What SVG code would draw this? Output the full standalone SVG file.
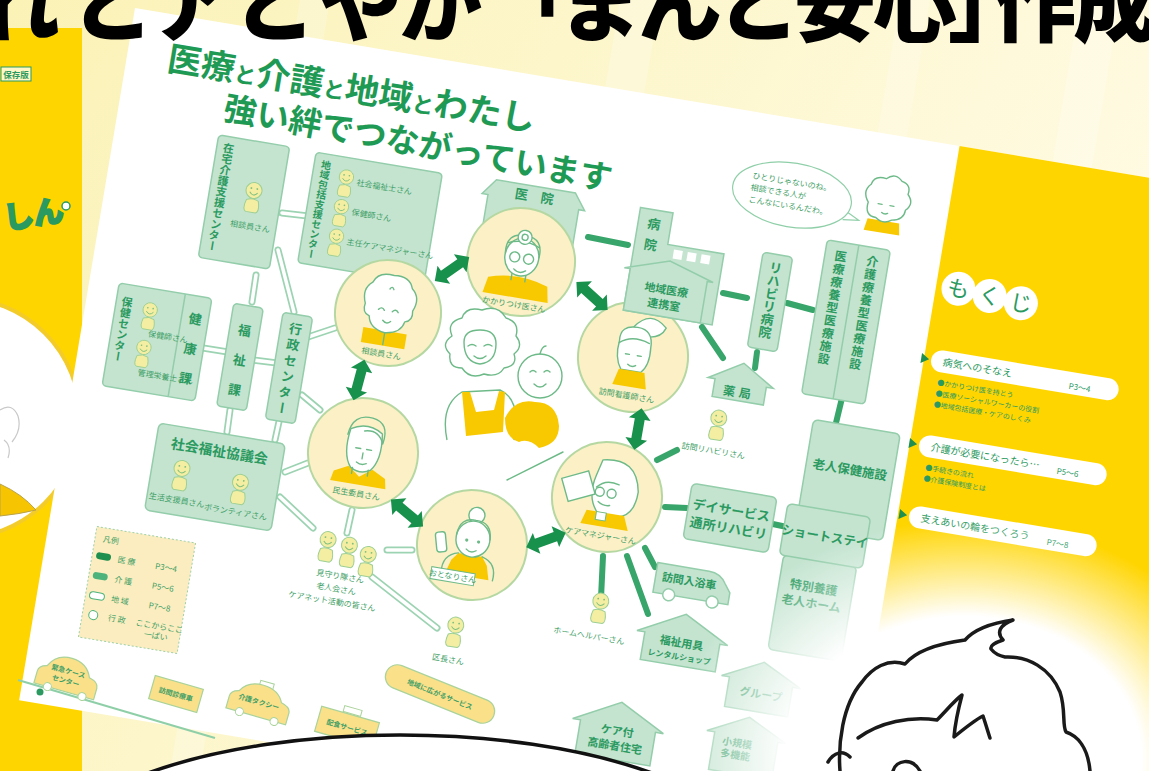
<svg xmlns="http://www.w3.org/2000/svg" width="1149" height="771" viewBox="0 0 1149 771">
<defs>
<style>
.jp{font-family:"Noto Sans CJK JP","Noto Sans CJK SC",sans-serif;}
.box{fill:#c4e4d0;stroke:#93cdaa;stroke-width:1.5;}
.bt{font-family:"Noto Sans CJK JP","Noto Sans CJK SC",sans-serif;font-weight:700;fill:#2b9a60;}
.lbl{font-family:"Noto Sans CJK JP","Noto Sans CJK SC",sans-serif;font-size:8px;fill:#3f9f67;}
.ring{fill:#fcf0c6;stroke:#b5d8a2;stroke-width:2;}
.ink{fill:none;stroke:#6dba88;stroke-width:1.4;stroke-linecap:round;stroke-linejoin:round;}
.skin{fill:#fff;stroke:#6dba88;stroke-width:1.4;stroke-linejoin:round;}
.shirt{fill:#f8c800;}
.arrow{fill:#17914b;}
.link{stroke:#38a56a;stroke-width:6;stroke-linecap:round;fill:none;}
.wire-o{stroke:#9cd3b2;stroke-width:7;stroke-linecap:round;fill:none;}
.wire-i{stroke:#fff;stroke-width:3.5;stroke-linecap:round;fill:none;}
.car{fill:#fbe08a;stroke:#a9d39a;stroke-width:1.2;}
.ct{font-family:"Noto Sans CJK JP","Noto Sans CJK SC",sans-serif;font-size:7px;fill:#3f9f67;font-weight:700;}
.toc{font-family:"Noto Sans CJK JP","Noto Sans CJK SC",sans-serif;fill:#2b9a60;}
</style>
<linearGradient id="bg" x1="0" y1="0" x2="1" y2="0.4">
<stop offset="0" stop-color="#fbf2b6"/><stop offset="1" stop-color="#fffbe4"/>
</linearGradient>
<radialGradient id="glow" cx="0.5" cy="0.5" r="0.5">
<stop offset="0.6" stop-color="#fff"/><stop offset="1" stop-color="#fff" stop-opacity="0"/>
</radialGradient>
<g id="person">
<path d="M-6,5 Q-9,15 -5,17 L5,17 Q9,15 6,5 Q0,2 -6,5Z" fill="#f3eea2" stroke="#9ccf94" stroke-width="1"/>
<circle cx="0" cy="-5" r="8" fill="#f3eea2" stroke="#9ccf94" stroke-width="1"/>
<path d="M-4,-3 q4,5 8,0" fill="none" stroke="#7fbf7f" stroke-width="1"/>
<circle cx="-3" cy="-7" r="0.9" fill="#7fbf7f"/><circle cx="3" cy="-7" r="0.9" fill="#7fbf7f"/>
</g>
<path id="dbl" d="M-21,0 L-10,-11 L-10,-5 L10,-5 L10,-11 L21,0 L10,11 L10,5 L-10,5 L-10,11Z"/>
<g id="wirepaths">
<path d="M282,213 L308,216"/>
<path d="M256,275 L252,302"/>
<path d="M278,250 L294,312"/>
<path d="M203,348 L228,352"/>
<path d="M253,360 L277,363"/>
<path d="M308,337 L335,328"/>
<path d="M302,395 L320,410"/>
<path d="M230,410 L227,432"/>
<path d="M280,417 L275,440"/>
<path d="M285,472 L308,463"/>
<path d="M280,497 L313,528"/>
<path d="M352,510 L347,533"/>
<path d="M387,550 L412,550"/>
<path d="M372,577 L437,628"/>
</g>
</defs>

<!-- backdrop -->
<rect width="1149" height="771" fill="url(#bg)"/>
<g fill="#fff" opacity="0.22">
<polygon points="300,0 330,0 200,771 170,771"/>
<polygon points="620,0 660,0 530,771 490,771"/>
<polygon points="900,0 930,0 800,771 770,771"/>
<polygon points="1080,0 1120,0 990,771 950,771"/>
</g>

<!-- cover booklet on the left -->
<g id="cover">
<rect x="0" y="28" width="82" height="743" fill="#ffd500"/>
<rect x="1" y="67" width="30" height="14" fill="#fff7c8" stroke="#2b9a60" stroke-width="1"/>
<text class="bt" x="16" y="78" font-size="8.5" text-anchor="middle" font-weight="400">保存版</text>
<text class="bt" x="3" y="226" font-size="30" fill="#fff" stroke="#2b9a60" stroke-width="2.5" paint-order="stroke" transform="rotate(-8,25,212)">しん</text>
<circle cx="66" cy="206" r="4" fill="#fff" stroke="#2b9a60" stroke-width="1.5"/>
<circle cx="-40" cy="418" r="120" fill="#fff" stroke="#f3cc2a" stroke-width="4"/>
<path d="M0,410 q12,-8 18,6 q4,14 -6,26 M4,440 q8,6 4,18" fill="none" stroke="#c9c9c9" stroke-width="1.2"/>
<path d="M0,484 Q22,494 36,510 Q20,514 0,516Z" fill="#f6c400" stroke="#b9a34a" stroke-width="1"/>
</g>

<!-- brochure sheet -->
<g id="page" transform="translate(135,8) rotate(9.5)">
<rect x="0" y="0" width="1300" height="702" fill="#fff"/>
<rect x="836" y="0" width="464" height="702" fill="#ffd500"/>
</g>

<!-- heading on the sheet -->
<g id="heading" class="bt">
<text transform="translate(166,70) rotate(9.5)" font-size="34" fill="#1f9a55">医療<tspan font-size="22">と</tspan>介護<tspan font-size="22">と</tspan>地域<tspan font-size="22">と</tspan>わたし</text>
<text transform="translate(222,119) rotate(10.5)" font-size="33" fill="#1f9a55">強い絆でつながっています</text>
</g>

<!-- connectors -->
<g id="connectors">
<use href="#wirepaths" class="wire-o"/>
<use href="#wirepaths" class="wire-i"/>
<g class="link">
<path d="M588,237 L628,245"/>
<path d="M723,293 L747,298"/>
<path d="M787,303 L813,310"/>
<path d="M702,327 L723,358"/>
<path d="M757,352 L755,368"/>
<path d="M842,398 L835,427"/>
<path d="M657,460 L677,450"/>
<path d="M665,507 L687,508"/>
<path d="M768,523 L787,527"/>
<path d="M645,548 L655,567"/>
<path d="M603,556 L601,598"/>
<path d="M627,556 L648,614"/>
</g>
<path d="M18,680 L215,738" stroke="#8fcfa8" stroke-width="2" fill="none"/>
</g>

<!-- left-hand agencies -->
<g id="n-zaitaku" transform="translate(244,202) rotate(9.5)">
<rect class="box" x="-36" y="-62" width="72" height="124" rx="4"/>
<text class="bt" x="-24" y="-56" font-size="11" writing-mode="tb">在宅介護支援センター</text>
<use href="#person" transform="translate(8,-8)"/>
<text class="lbl" x="10" y="26" text-anchor="middle">相談員さん</text>
</g>

<g id="n-houkatsu" transform="translate(370,218) rotate(9.5)">
<rect class="box" x="-64" y="-56" width="128" height="112" rx="4"/>
<text class="bt" x="-52" y="-50" font-size="10" writing-mode="tb">地域包括支援センター</text>
<use href="#person" transform="translate(-30,-32) scale(0.9)"/>
<use href="#person" transform="translate(-30,-2) scale(0.9)"/>
<use href="#person" transform="translate(-30,28) scale(0.9)"/>
<text class="lbl" x="-19" y="-30">社会福祉士さん</text>
<text class="lbl" x="-19" y="0">保健師さん</text>
<text class="lbl" x="-19" y="30" font-size="7.5">主任ケアマネジャーさん</text>
</g>

<g id="n-kenkou" transform="translate(157,342) rotate(9.5)">
<rect class="box" x="-47" y="-52" width="94" height="104" rx="4"/>
<path d="M20,-52 V52" stroke="#93cdaa" stroke-width="1.5"/>
<text class="bt" x="-36" y="-40" font-size="11" writing-mode="tb">保健センター</text>
<use href="#person" transform="translate(-12,-26) scale(0.9)"/>
<use href="#person" transform="translate(-12,12) scale(0.9)"/>
<text class="lbl" x="-10" y="-4" font-size="7">保健師さん</text>
<text class="lbl" x="-14" y="36" font-size="7">管理栄養士さん</text>
<text class="bt" x="34" y="-24" font-size="13" text-anchor="middle">健</text>
<text class="bt" x="34" y="6" font-size="13" text-anchor="middle">康</text>
<text class="bt" x="34" y="36" font-size="13" text-anchor="middle">課</text>
</g>

<g id="n-fukushi" transform="translate(240,357) rotate(9.5)">
<rect class="box" x="-15" y="-52" width="30" height="104" rx="4"/>
<text class="bt" x="0" y="-22" font-size="13" text-anchor="middle">福</text>
<text class="bt" x="0" y="8" font-size="13" text-anchor="middle">祉</text>
<text class="bt" x="0" y="38" font-size="13" text-anchor="middle">課</text>
</g>

<g id="n-gyousei" transform="translate(289,368) rotate(9.5)">
<rect class="box" x="-15" y="-54" width="30" height="108" rx="4"/>
<text class="bt" x="0" y="-46" font-size="13" writing-mode="tb" letter-spacing="3">行政センター</text>
</g>

<g id="n-shakyo" transform="translate(215,477) rotate(9.5)">
<rect class="box" x="-64" y="-44" width="128" height="88" rx="5"/>
<text class="bt" x="0" y="-21" font-size="14" text-anchor="middle">社会福祉協議会</text>
<use href="#person" transform="translate(-34,2)"/>
<use href="#person" transform="translate(26,6)"/>
<text class="lbl" x="-34" y="32" text-anchor="middle">生活支援員さん</text>
<text class="lbl" x="26" y="34" text-anchor="middle">ボランティアさん</text>
</g>

<g id="n-clinic" transform="translate(532,210) rotate(9.5)">
<polygon class="box" points="-52,-8 -40,-24 40,-24 52,-8 46,-8 46,28 -46,28 -46,-8"/>
<text class="bt" x="-13" y="-9" font-size="13" text-anchor="middle">医</text>
<text class="bt" x="13" y="-9" font-size="13" text-anchor="middle">院</text>
</g>

<!-- people circles -->
<g id="c-doctor" transform="translate(521,262) rotate(9.5)">
<circle class="ring" r="54"/>
<path class="shirt" d="M-30,20 Q0,10 30,20 L33,36 L-33,36Z"/>
<path class="ink" d="M-7,10 v9 M7,10 v9"/>
<ellipse class="skin" cx="0" cy="-5" rx="17" ry="19"/>
<path class="ink" d="M-17,-7 Q-19,-27 0,-27 Q19,-27 17,-7"/>
<path class="ink" d="M-16,-17 Q0,-24 16,-17"/>
<circle class="skin" cx="0" cy="-25" r="7"/>
<circle class="ink" cx="0" cy="-25" r="3"/>
<circle class="ink" cx="-7" cy="-4" r="5"/><circle class="ink" cx="7" cy="-4" r="5"/>
<path class="ink" d="M-6,8 Q0,13 6,8"/>
<text class="lbl" y="46" text-anchor="middle">かかりつけ医さん</text>
</g>

<g id="c-soudan" transform="translate(388,313) rotate(9.5)">
<circle class="ring" r="53"/>
<rect class="shirt" x="-22" y="18" width="44" height="15"/>
<path class="ink" d="M0,18 v14"/>
<path class="skin" d="M-24,-6 q-6,-14 4,-22 q4,-12 20,-10 q16,-2 20,10 q10,8 4,22 q2,10 -6,12 q-2,12 -18,14 q-16,-2 -18,-14 q-8,-2 -6,-12z"/>
<path class="ink" d="M-10,-2 q3,-4 6,0 M4,-2 q3,-4 6,0 M-4,8 q4,4 8,0 M-2,-24 q2,-4 4,0"/>
<text class="lbl" y="44" text-anchor="middle">相談員さん</text>
</g>

<g id="c-minsei" transform="translate(363,453) rotate(9.5)">
<circle class="ring" r="55"/>
<path class="shirt" d="M-26,22 L-12,15 L0,24 L12,15 L26,22 L28,32 L-28,32Z"/>
<path class="skin" d="M-16,-22 Q-20,4 -10,16 Q0,22 10,16 Q20,4 16,-22 Q0,-32 -16,-22Z"/>
<path class="ink" d="M-18,-16 Q-16,-38 4,-36 Q22,-34 18,-12 Q12,-26 -2,-22 M-8,-4 h5 M3,-4 h5 M0,0 v6 M-5,10 q5,3 10,0"/>
<path class="ink" d="M-8,16 v6 M8,16 v6"/>
<text class="lbl" y="44" text-anchor="middle">民生委員さん</text>
</g>

<g id="c-otonari" transform="translate(472,545) rotate(9.5)">
<circle class="ring" r="55"/>
<path class="shirt" d="M-18,18 L-12,10 L12,10 L18,18 L22,32 L-22,32Z"/>
<path class="ink" d="M-26,32 Q-28,14 -12,10 M26,32 Q28,14 12,10"/>
<circle class="skin" cx="0" cy="-30" r="8"/>
<ellipse class="skin" cx="0" cy="-6" rx="17" ry="18"/>
<path class="ink" d="M-17,-8 Q-16,-26 0,-25 Q16,-26 17,-8"/>
<circle cx="-6" cy="-4" r="1.6" fill="#6dba88"/><circle cx="6" cy="-4" r="1.6" fill="#6dba88"/>
<path class="ink" d="M-5,5 Q0,9 5,5"/>
<rect class="skin" x="-36" y="-8" width="10" height="20" rx="3" transform="rotate(-15,-31,2)"/>
<rect x="-36" y="28" width="44" height="12" fill="#fff" stroke="#6dba88" stroke-width="1"/>
<text class="lbl" x="-14" y="37" text-anchor="middle" font-size="7.5">おとなりさん</text>
</g>

<g id="c-caremane" transform="translate(607,497) rotate(9.5)">
<circle class="ring" r="55"/>
<path class="skin" d="M-10,-36 Q24,-44 30,-10 Q30,14 14,18 L-6,18 Q-20,4 -14,-20Z"/>
<path class="ink" d="M-12,-8 Q-4,-18 10,-14 M-8,6 Q-2,10 4,8"/>
<circle class="ink" cx="-8" cy="-4" r="4.5"/><circle class="ink" cx="4" cy="-4" r="4.5"/>
<rect class="skin" x="-44" y="-18" width="28" height="24" transform="rotate(-25,-30,-6)"/>
<path class="shirt" d="M-18,16 L20,16 L26,30 L-22,30Z"/>
<rect x="-8" y="16" width="10" height="8" fill="#fff" stroke="#6dba88" stroke-width="1"/>
<text class="lbl" y="42" text-anchor="middle">ケアマネジャーさん</text>
</g>

<g id="c-kango" transform="translate(633,357) rotate(9.5)">
<circle class="ring" r="55"/>
<path class="skin" d="M-4,-30 Q10,-50 28,-34 Q24,-22 8,-22Z"/>
<path class="skin" d="M-16,-14 Q-18,-30 0,-30 Q16,-30 16,-12 Q18,6 10,14 L-10,14 Q-18,4 -16,-14Z"/>
<path class="ink" d="M-16,-12 Q-4,-22 14,-16 M-8,-2 h4 M4,-2 h4 M-4,8 q4,3 8,0"/>
<path class="shirt" d="M-12,14 L14,14 L18,30 L-16,30Z"/>
<text class="lbl" y="42" text-anchor="middle">訪問看護師さん</text>
</g>

<!-- arrows between people -->
<g id="arrows" class="arrow">
<use href="#dbl" transform="translate(452,269) rotate(-35)"/>
<use href="#dbl" transform="translate(592,296) rotate(42)"/>
<use href="#dbl" transform="translate(638,429) rotate(100)"/>
<use href="#dbl" transform="translate(546,540) rotate(-20)"/>
<use href="#dbl" transform="translate(407,513) rotate(40)"/>
<use href="#dbl" transform="translate(359,380) rotate(105)"/>
</g>

<!-- family in the middle -->
<g id="n-family">
<path class="skin" d="M447,440 Q440,405 462,392 L500,390 Q522,400 514,440"/>
<path class="skin" d="M452,336 q-6,-14 10,-18 q4,-12 20,-8 q16,-6 24,8 q14,4 10,18 q8,10 -2,18 q4,12 -10,14 q-6,10 -20,6 q-14,6 -22,-6 q-14,0 -12,-14 q-10,-10 2,-18z"/>
<path class="skin" d="M464,342 q0,-12 16,-12 q16,0 16,14 q0,18 -16,20 q-16,-2 -16,-22z"/>
<path class="ink" d="M468,346 q4,-3 8,0 M484,346 q4,-3 8,0 M474,356 q6,5 12,0"/>
<path class="shirt" d="M462,392 L470,392 L476,412 L494,410 L499,391 L505,392 L503,432 L466,436Z"/>
<circle class="skin" cx="540" cy="376" r="22"/>
<path class="ink" d="M530,372 q3,-3 6,0 M544,372 q3,-3 6,0 M534,384 q6,6 12,0 M540,354 q2,-8 6,-8"/>
<path class="shirt" d="M505,418 q10,-20 30,-16 q22,0 24,24 q0,18 -20,22 q-10,-10 -20,-6 q-14,-4 -14,-24z"/>
<path class="ink" d="M507,480 L563,452"/>
</g>

<!-- hospital side -->
<g id="n-hospital" transform="translate(675,268) rotate(9.5)">
<path class="box" d="M-44,-54 h33 v32 h57 v72 h-90 z"/>
<rect x="-4" y="-18" width="9" height="9" fill="#fff"/>
<rect x="10" y="-18" width="9" height="9" fill="#fff"/>
<rect x="24" y="-18" width="9" height="9" fill="#fff"/>
<text class="bt" x="-28" y="-35" font-size="13" text-anchor="middle">病</text>
<text class="bt" x="-28" y="-14" font-size="13" text-anchor="middle">院</text>
<polygon class="box" points="-50,8 -6,-6 40,8 34,8 34,50 -44,50 -44,8"/>
<text class="bt" x="-5" y="27" font-size="11" text-anchor="middle">地域医療</text>
<text class="bt" x="-5" y="42" font-size="11" text-anchor="middle">連携室</text>
</g>

<g id="n-rehab" transform="translate(770,302) rotate(9.5)">
<rect class="box" x="-15" y="-48" width="30" height="96" rx="4"/>
<text class="bt" x="0" y="-41" font-size="13" writing-mode="tb">リハビリ病院</text>
</g>

<g id="n-ryouyou" transform="translate(846,322) rotate(9.5)">
<rect class="box" x="-32" y="-78" width="64" height="156" rx="4"/>
<path d="M0,-78 V78" stroke="#93cdaa" stroke-width="1.5"/>
<text class="bt" x="-16" y="-70" font-size="12" writing-mode="tb" letter-spacing="1">医療療養型医療施設</text>
<text class="bt" x="16" y="-70" font-size="12" writing-mode="tb" letter-spacing="1">介護療養型医療施設</text>
</g>

<g id="n-yakkyoku" transform="translate(741,381) rotate(9.5)">
<polygon class="box" points="-33,2 0,-18 33,2 26,2 26,20 -26,20 -26,2"/>
<text class="bt" x="0" y="16" font-size="12" text-anchor="middle" letter-spacing="4">薬局</text>
</g>

<g id="n-homonreha" transform="translate(718,423) rotate(9.5)">
<use href="#person"/>
<text class="lbl" x="0" y="31" text-anchor="middle" font-size="9">訪問リハビリさん</text>
</g>

<g id="n-day" transform="translate(730,518) rotate(9.5)">
<rect class="box" x="-43" y="-28" width="86" height="56" rx="5"/>
<text class="bt" x="0" y="-3" font-size="13" text-anchor="middle">デイサービス</text>
<text class="bt" x="0" y="15" font-size="13" text-anchor="middle">通所リハビリ</text>
</g>

<g id="n-roken" transform="translate(848,480) rotate(9.5)">
<rect class="box" x="-44" y="-54" width="88" height="108" rx="5"/>
<text class="bt" x="0" y="-6" font-size="12.5" text-anchor="middle">老人保健施設</text>
</g>

<g id="n-tokuyou" transform="translate(813,604) rotate(9.5)">
<rect class="box" x="-37" y="-44" width="74" height="96" rx="5"/>
<text class="bt" x="-2" y="-12" font-size="12" text-anchor="middle">特別養護</text>
<text class="bt" x="-2" y="4" font-size="12" text-anchor="middle">老人ホーム</text>
</g>

<g id="n-short" transform="translate(825,536) rotate(9.5)">
<rect class="box" x="-42" y="-26" width="84" height="52" rx="5"/>
<text class="bt" x="0" y="5" font-size="12.5" text-anchor="middle">ショートステイ</text>
</g>

<g id="n-nyuyoku" transform="translate(695,583) rotate(9.5)">
<path class="box" d="M-40,-14 h52 q12,0 18,10 l6,8 v12 h-76 z"/>
<circle cx="-24" cy="16" r="6" fill="#fff" stroke="#93cdaa" stroke-width="1.5"/>
<circle cx="20" cy="16" r="6" fill="#fff" stroke="#93cdaa" stroke-width="1.5"/>
<text class="bt" x="-6" y="3" font-size="11" text-anchor="middle">訪問入浴車</text>
</g>

<g id="n-yougu" transform="translate(682,640) rotate(9.5)">
<polygon class="box" points="-46,-2 0,-26 46,-2 38,-2 38,26 -38,26 -38,-2"/>
<text class="bt" x="0" y="7" font-size="11" text-anchor="middle">福祉用具</text>
<text class="bt" x="0" y="20" font-size="8" text-anchor="middle">レンタルショップ</text>
</g>

<g id="n-helper" transform="translate(600,606) rotate(9.5)">
<use href="#person"/>
<text class="lbl" x="-6" y="34" text-anchor="middle" font-size="8.5">ホームヘルパーさん</text>
</g>

<g id="n-kucho" transform="translate(455,630) rotate(9.5)">
<use href="#person"/>
<text class="lbl" x="-2" y="33" text-anchor="middle" font-size="8.5">区長さん</text>
</g>

<g id="n-mimamori" transform="translate(347,560) rotate(9.5)">
<use href="#person" transform="translate(-22,-12)"/>
<use href="#person" transform="translate(0,-10)"/>
<use href="#person" transform="translate(20,-4)"/>
<text class="lbl" x="-4" y="20" text-anchor="middle" font-size="9">見守り隊さん</text>
<text class="lbl" x="-6" y="33" text-anchor="middle" font-size="9">老人会さん</text>
<text class="lbl" x="-8" y="46" text-anchor="middle" font-size="9">ケアネット活動の皆さん</text>
</g>

<g id="n-legend" transform="translate(137,590) rotate(9.5)">
<rect x="-50" y="-56" width="100" height="112" fill="#fbedbf" stroke="#9fd0a8" stroke-dasharray="2 2"/>
<text class="lbl" x="-42" y="-42" font-size="8">凡例</text>
<rect x="-46" y="-31" width="15" height="7" rx="3.5" fill="#1e8f4e"/>
<rect x="-46" y="-11" width="15" height="7" rx="3.5" fill="#4db37a"/>
<rect x="-46" y="9" width="15" height="7" rx="3.5" fill="#fff" stroke="#4db37a"/>
<circle cx="-39" cy="32" r="4.5" fill="#fff" stroke="#4db37a"/>
<text class="lbl" x="-24" y="-24" font-size="8">医 療</text>
<text class="lbl" x="-24" y="-4" font-size="8">介 護</text>
<text class="lbl" x="-24" y="16" font-size="8">地 域</text>
<text class="lbl" x="-24" y="35" font-size="8">行 政</text>
<text class="lbl" x="14" y="-24" font-size="7">P3〜4</text>
<text class="lbl" x="14" y="-4" font-size="7">P5〜6</text>
<text class="lbl" x="14" y="16" font-size="7">P7〜8</text>
<text class="lbl" x="4" y="35" font-size="6.5">ここからここ</text>
<text class="lbl" x="14" y="45" font-size="6.5">一ぱい</text>
</g>

<!-- services along the road -->
<g id="n-cars">
<circle cx="40" cy="692" r="3.5" fill="#2b9a60"/>
<g transform="translate(68,680) rotate(16)">
<path class="car" d="M-32,12 v-12 q0,-6 8,-8 q6,-14 22,-14 q16,0 22,14 q10,2 10,8 v12 z"/>
<circle cx="-18" cy="12" r="4" fill="#fff" stroke="#a9d39a"/><circle cx="18" cy="12" r="4" fill="#fff" stroke="#a9d39a"/>
<text class="ct" x="-2" y="-6" text-anchor="middle">緊急ケース</text>
<text class="ct" x="-2" y="4" text-anchor="middle">センター</text>
</g>
<g transform="translate(176,694) rotate(16)">
<rect class="car" x="-25" y="-12" width="50" height="24"/>
<text class="ct" x="0" y="3" text-anchor="middle">訪問診療車</text>
</g>
<g transform="translate(260,705) rotate(16)">
<rect x="-6" y="-24" width="14" height="6" fill="#fff" stroke="#a9d39a"/>
<path class="car" d="M-32,12 v-12 q0,-6 8,-8 q6,-12 22,-12 q16,0 22,12 q10,2 10,8 v12 z"/>
<circle cx="-18" cy="12" r="4" fill="#fff" stroke="#a9d39a"/><circle cx="18" cy="12" r="4" fill="#fff" stroke="#a9d39a"/>
<text class="ct" x="-2" y="0" text-anchor="middle">介護タクシー</text>
</g>
<g transform="translate(347,727) rotate(16)">
<rect x="-8" y="-20" width="18" height="6" fill="#fff" stroke="#a9d39a"/>
<rect class="car" x="-30" y="-13" width="60" height="26"/>
<text class="ct" x="0" y="3" text-anchor="middle">配食サービス</text>
</g>
<g transform="translate(440,694) rotate(22)">
<rect class="car" x="-58" y="-12" width="116" height="24" rx="12"/>
<text class="ct" x="0" y="3" text-anchor="middle" font-size="8">地域に広がるサービス</text>
</g>
</g>

<g id="n-carehouse" transform="translate(617,732) rotate(9.5)">
<polygon class="box" points="-46,-6 0,-30 46,-6 38,-6 38,28 -38,28 -38,-6"/>
<text class="bt" x="0" y="3" font-size="11" text-anchor="middle">ケア付</text>
<text class="bt" x="0" y="18" font-size="11" text-anchor="middle">高齢者住宅</text>
</g>
<g id="n-group" transform="translate(760,688) rotate(9.5)">
<polygon class="box" points="-40,-6 0,-26 40,-6 32,-6 32,24 -32,24 -32,-6"/>
<text class="bt" x="2" y="10" font-size="11" text-anchor="middle">グループ</text>
</g>
<g id="n-shoukibo" transform="translate(745,745) rotate(9.5)">
<polygon class="box" points="-40,-8 0,-28 40,-8 32,-8 32,30 -32,30 -32,-8"/>
<text class="bt" x="-8" y="3" font-size="10" text-anchor="middle">小規模</text>
<text class="bt" x="-8" y="15" font-size="10" text-anchor="middle">多機能</text>
</g>

<!-- speech bubble and speaker -->
<g id="n-bubble" transform="translate(792,195) rotate(9.5)">
<path d="M58,8 L70,14 L54,16" fill="#fff" stroke="#8fcfa8" stroke-width="1.2"/>
<ellipse cx="0" cy="0" rx="60" ry="32" fill="#fff" stroke="#8fcfa8" stroke-width="1.2"/>
<text class="lbl" x="-42" y="-10" font-size="8.5">ひとりじゃないのね。</text>
<text class="lbl" x="-42" y="2" font-size="8.5">相談できる人が</text>
<text class="lbl" x="-42" y="14" font-size="8.5">こんなにいるんだわ。</text>
</g>
<g id="n-speaker" transform="translate(886,205) rotate(9.5)">
<path class="shirt" d="M-16,16 h32 l2,12 h-36z"/>
<path class="skin" d="M-18,0 q-8,-10 0,-18 q2,-10 14,-8 q8,-8 16,0 q10,2 8,12 q8,8 0,16 q0,10 -12,12 q-8,6 -16,0 q-12,0 -10,-14z"/>
<path class="ink" d="M-8,0 h4 M4,0 h4 M-3,8 q3,2 6,0"/>
</g>

<!-- contents panel -->
<g id="n-mokuji" transform="translate(990,294) rotate(9.5)">
<circle cx="-32" cy="0" r="17" fill="#fff"/>
<circle cx="0" cy="2" r="17" fill="#fff"/>
<circle cx="32" cy="4" r="17" fill="#fff"/>
<text class="toc" x="-32" y="8" font-size="22" text-anchor="middle">も</text>
<text class="toc" x="0" y="10" font-size="22" text-anchor="middle">く</text>
<text class="toc" x="32" y="12" font-size="22" text-anchor="middle">じ</text>
</g>
<g id="n-toc1" transform="translate(1022,386) rotate(9.5)">
<polygon points="-104,-16 -96,-11 -104,-6" fill="#1e8f4e"/>
<rect x="-94" y="-22" width="190" height="22" rx="11" fill="#fff"/>
<text class="toc" x="-82" y="-7" font-size="10">病気へのそなえ</text>
<text class="toc" x="46" y="-5" font-size="8">P3〜4</text>
<text class="toc" x="-84" y="13" font-size="7">●かかりつけ医を持とう</text>
<text class="toc" x="-84" y="24" font-size="7">●医療ソーシャルワーカーの役割</text>
<text class="toc" x="-84" y="35" font-size="7">●地域包括医療・ケアのしくみ</text>
</g>
<g id="n-toc2" transform="translate(1010,471) rotate(9.5)">
<polygon points="-104,-16 -96,-11 -104,-6" fill="#1e8f4e"/>
<rect x="-94" y="-22" width="190" height="22" rx="11" fill="#fff"/>
<text class="toc" x="-82" y="-7" font-size="10">介護が必要になったら…</text>
<text class="toc" x="46" y="-5" font-size="8">P5〜6</text>
<text class="toc" x="-84" y="13" font-size="7">●手続きの流れ</text>
<text class="toc" x="-84" y="24" font-size="7">●介護保険制度とは</text>
</g>
<g id="n-toc3" transform="translate(1000,542) rotate(9.5)">
<polygon points="-104,-16 -96,-11 -104,-6" fill="#1e8f4e"/>
<rect x="-94" y="-22" width="190" height="22" rx="11" fill="#fff"/>
<text class="toc" x="-82" y="-7" font-size="10">支えあいの輪をつくろう</text>
<text class="toc" x="46" y="-5" font-size="8">P7〜8</text>
</g>

<!-- white haze round the cartoon -->
<ellipse cx="965" cy="760" rx="295" ry="240" fill="url(#glow)"/>

<!-- speech circle along the bottom -->
<ellipse id="n-balloon" cx="400" cy="868" rx="360" ry="133" fill="#fff" stroke="#111" stroke-width="3.5"/>

<!-- cartoon head -->
<g id="n-cartoon" fill="none" stroke="#1a1a1a" stroke-width="3.5" stroke-linecap="round" stroke-linejoin="round">
<path d="M840,771 C838,745 842,705 862,682 C872,668 888,658 905,664 C915,652 935,644 965,640 C972,632 985,624 1013,620 C1000,625 996,632 1003,640 C994,643 990,646 991,649 C995,654 1000,656 1005,657 C1028,656 1050,668 1060,692 C1066,710 1062,725 1066,732 C1078,736 1088,748 1090,771"/>
<path d="M858,738 C880,722 910,716 937,720 C945,712 955,700 962,695 C958,710 955,725 954,737 C965,728 975,720 983,716 C986,725 988,732 990,738"/>
<path d="M828,762 C834,752 843,750 850,757"/>
<path d="M893,771 C896,760 912,757 920,771"/>
</g>

<!-- banner lettering at the top edge -->
<text id="n-banner" class="jp" y="35" font-size="84" font-weight="900" fill="#000" x="-24 70 150 232 318 398 488 558 638 716 793 873 948 993 1073">れとアとやか「まんと安心」作成</text>
</svg>
